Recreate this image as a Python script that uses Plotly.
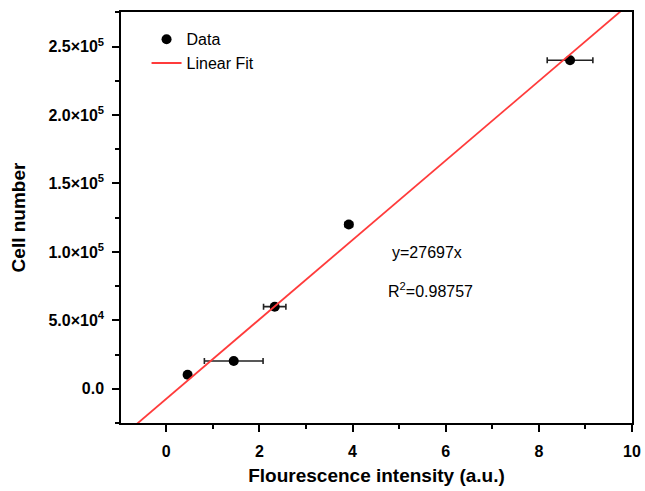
import plotly.graph_objects as go

# measured points
intensity = [0.46, 1.45, 2.33, 3.92, 8.67]
intensity_err = [0.05, 0.63, 0.24, 0.08, 0.49]
cells = [10200, 20300, 60000, 120000, 240000]

# fitted line as drawn
fit_slope = 29030
fit_intercept = -7400
fit_x = [-1.0, 10.0]
fit_y = [fit_slope * x + fit_intercept for x in fit_x]

ytick_vals = [0, 50000, 100000, 150000, 200000, 250000]
ytick_text = ["0.0", "5.0\u00d710<sup>4</sup>", "1.0\u00d710<sup>5</sup>",
              "1.5\u00d710<sup>5</sup>", "2.0\u00d710<sup>5</sup>", "2.5\u00d710<sup>5</sup>"]
xtick_vals = [0, 2, 4, 6, 8, 10]

FONT = "Liberation Sans, Arial, sans-serif"

fig = go.Figure()
fig.add_trace(go.Scatter(
    x=intensity, y=cells, mode="markers", name="Data",
    marker=dict(color="black", size=10),
    error_x=dict(type="data", array=intensity_err, visible=True,
                 color="#222222", thickness=1.6, width=3),
))
fig.add_trace(go.Scatter(
    x=fit_x, y=fit_y, mode="lines", name="Linear Fit",
    line=dict(color="#ff3b3b", width=1.8),
))

fig.add_annotation(x=0.599, y=0.414, xref="paper", yref="paper", text="y=27697x",
                   showarrow=False, xanchor="center", yanchor="middle",
                   font=dict(size=16, color="black"))
fig.add_annotation(x=0.606, y=0.324, xref="paper", yref="paper",
                   text="R<sup>2</sup>=0.98757",
                   showarrow=False, xanchor="center", yanchor="middle",
                   font=dict(size=16, color="black"))

axis_common = dict(
    showline=True, linecolor="black", linewidth=1.5, mirror=True,
    ticks="outside", ticklen=7, tickwidth=1.5, tickcolor="black",
    showgrid=False, zeroline=False, automargin=False,
    tickfont=dict(size=16, color="black", family=FONT, weight="bold"),
)

fig.update_xaxes(
    range=[-0.97, 10], tickvals=xtick_vals, ticklabelstandoff=6,
    minor=dict(dtick=1, tick0=1, ticks="outside", ticklen=4, tickcolor="black", tickwidth=1.5),
    title=dict(text="Flourescence intensity (a.u.)", standoff=10,
               font=dict(size=19, color="black", family=FONT, weight="bold")),
    **axis_common,
)
fig.update_yaxes(
    range=[-25000, 275300], tickvals=ytick_vals, ticktext=ytick_text, ticklabelstandoff=5,
    minor=dict(dtick=25000, tick0=25000, ticks="outside", ticklen=4, tickcolor="black", tickwidth=1.5),
    title=dict(text="Cell number", standoff=18,
               font=dict(size=19, color="black", family=FONT, weight="bold")),
    **axis_common,
)

fig.update_layout(
    width=645, height=491,
    margin=dict(l=121, r=13, t=12, b=68),
    plot_bgcolor="white", paper_bgcolor="white",
    font=dict(family=FONT, color="black"),
    showlegend=True,
    legend=dict(x=0.05, y=0.975, xanchor="left", yanchor="top",
                bgcolor="rgba(0,0,0,0)", font=dict(size=16, color="black"),
                tracegroupgap=0, itemwidth=30),
)

fig.write_html("out.html", config={"displayModeBar": False},
               post_script="document.body.style.margin='0';document.body.style.overflow='hidden';")
